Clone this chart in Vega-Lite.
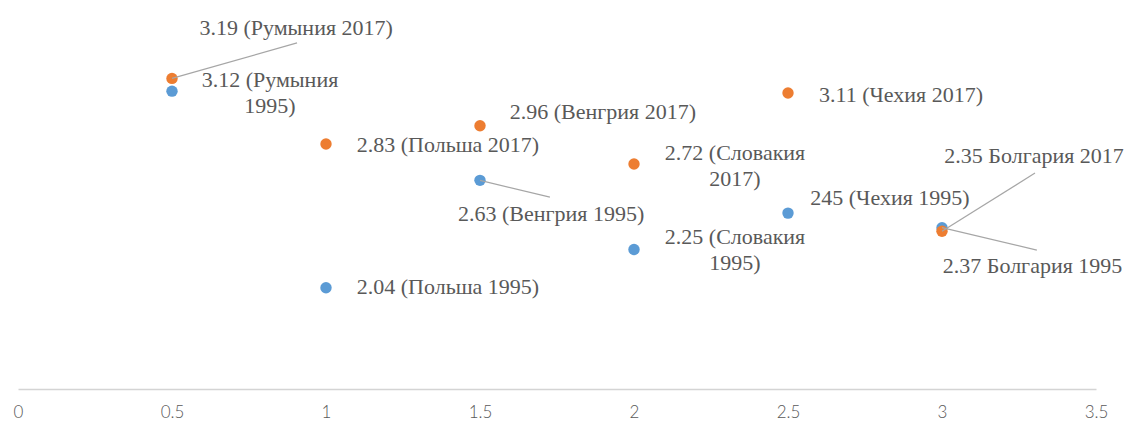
{
  "$schema": "https://vega.github.io/schema/vega-lite/v6.json",
  "autosize": "none",
  "width": 1078,
  "height": 364,
  "padding": {"left": 18, "top": 22, "right": 40, "bottom": 42},
  "background": "white",
  "config": {"view": {"stroke": null}},
  "datasets": {
    "points": [
      {"country": "Румыния", "year": "1995", "x": 0.5, "value": 3.12},
      {"country": "Польша", "year": "1995", "x": 1.0, "value": 2.04},
      {"country": "Венгрия", "year": "1995", "x": 1.5, "value": 2.63},
      {"country": "Словакия", "year": "1995", "x": 2.0, "value": 2.25},
      {"country": "Чехия", "year": "1995", "x": 2.5, "value": 2.45},
      {"country": "Болгария", "year": "1995", "x": 3.0, "value": 2.37},
      {"country": "Румыния", "year": "2017", "x": 0.5, "value": 3.19},
      {"country": "Польша", "year": "2017", "x": 1.0, "value": 2.83},
      {"country": "Венгрия", "year": "2017", "x": 1.5, "value": 2.93},
      {"country": "Словакия", "year": "2017", "x": 2.0, "value": 2.72},
      {"country": "Чехия", "year": "2017", "x": 2.5, "value": 3.11},
      {"country": "Болгария", "year": "2017", "x": 3.0, "value": 2.35}
    ],
    "leaders": [
      {"x": 0.5, "y": 3.19, "x2": 0.906, "y2": 3.385},
      {"x": 1.5, "y": 2.63, "x2": 1.727, "y2": 2.538},
      {"x": 3.0, "y": 2.35, "x2": 3.302, "y2": 2.670},
      {"x": 3.0, "y": 2.37, "x2": 3.308, "y2": 2.247}
    ],
    "labels": [
      {"text": "3.19 (Румыния 2017)", "lx": 0.903, "ly": 3.467},
      {"text": "3.12 (Румыния", "lx": 0.818, "ly": 3.181},
      {"text": "1995)", "lx": 0.818, "ly": 3.038},
      {"text": "2.96 (Венгрия 2017)", "lx": 1.899, "ly": 3.005},
      {"text": "2.83 (Польша 2017)", "lx": 1.396, "ly": 2.824},
      {"text": "2.72 (Словакия", "lx": 2.328, "ly": 2.780},
      {"text": "2017)", "lx": 2.328, "ly": 2.637},
      {"text": "3.11 (Чехия 2017)", "lx": 2.867, "ly": 3.099},
      {"text": "2.63 (Венгрия 1995)", "lx": 1.731, "ly": 2.445},
      {"text": "245 (Чехия 1995)", "lx": 2.831, "ly": 2.533},
      {"text": "2.25 (Словакия", "lx": 2.328, "ly": 2.319},
      {"text": "1995)", "lx": 2.328, "ly": 2.176},
      {"text": "2.04 (Польша 1995)", "lx": 1.396, "ly": 2.044},
      {"text": "2.35 Болгария 2017", "lx": 3.299, "ly": 2.765},
      {"text": "2.37 Болгария 1995", "lx": 3.294, "ly": 2.160}
    ]
  },
  "layer": [
    {
      "data": {"name": "points"},
      "mark": {"type": "circle", "size": 130, "opacity": 1},
      "encoding": {
        "x": {
          "field": "x", "type": "quantitative",
          "scale": {"domain": [0, 3.5], "nice": false, "zero": false},
          "axis": {
            "title": null, "values": [0, 0.5, 1, 1.5, 2, 2.5, 3, 3.5],
            "format": "~g", "grid": false, "ticks": false, "offset": 3,
            "domainColor": "#d4d4d4", "domainWidth": 1.5,
            "labelFont": "Lato", "labelFontSize": 17, "labelFontWeight": 300, "labelColor": "#595959",
            "labelPadding": 15, "labelFlush": false
          }
        },
        "y": {
          "field": "value", "type": "quantitative",
          "scale": {"domain": [1.5, 3.5], "nice": false, "zero": false},
          "axis": null
        },
        "color": {
          "field": "year", "type": "nominal",
          "scale": {"domain": ["1995", "2017"], "range": ["#5b9bd5", "#ed7d31"]},
          "legend": null
        }
      }
    },
    {
      "data": {"name": "leaders"},
      "mark": {"type": "rule", "color": "#a6a6a6", "strokeWidth": 1.2},
      "encoding": {
        "x": {"field": "x", "type": "quantitative"},
        "y": {"field": "y", "type": "quantitative"},
        "x2": {"field": "x2"},
        "y2": {"field": "y2"}
      }
    },
    {
      "data": {"name": "labels"},
      "mark": {"type": "text", "font": "Liberation Serif", "fontSize": 22, "color": "#595959", "align": "center", "baseline": "middle"},
      "encoding": {
        "x": {"field": "lx", "type": "quantitative"},
        "y": {"field": "ly", "type": "quantitative"},
        "text": {"field": "text"}
      }
    }
  ]
}
